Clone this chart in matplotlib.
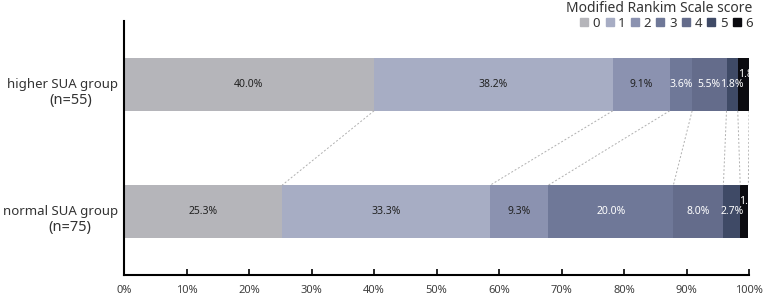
import matplotlib
matplotlib.use('Agg')
import matplotlib.pyplot as plt
import numpy as np
from matplotlib.lines import Line2D

plt.rcParams['font.family'] = ['Noto Sans', 'DejaVu Sans']

# data
groups = ['higher SUA group', 'normal SUA group']
group_n = ['(n=55)', '(n=75)']
scores = ['0', '1', '2', '3', '4', '5', '6']
higher = [40.0, 38.2, 9.1, 3.6, 5.5, 1.8, 1.8]
normal = [25.3, 33.3, 9.3, 20.0, 8.0, 2.7, 1.3]
colors = ['#b5b5ba', '#a7adc4', '#8b92b0', '#6f7898', '#646c8b', '#3f4a66', '#0b0b10']
text_colors = ['#222222', '#222222', '#222222', 'white', 'white', 'white', 'white']

fig = plt.figure(figsize=(7.67, 2.96), dpi=100)
ax = fig.add_axes([124/767, 21/296, 625/767, 254/296])

ypos = [1, 0]
h = 0.415
for y, vals in zip(ypos, [higher, normal]):
    left = 0
    for i, v in enumerate(vals):
        ax.barh(y, v, left=left, height=h, color=colors[i], edgecolor='none')
        if i < 6:
            ax.text(left + v/2, y, '%.1f%%' % v, ha='center', va='center',
                    fontsize=7.5, color=text_colors[i])
        else:
            ax.text(left + v/2 + 0.4, y + 0.08, '%.1f' % v, ha='center', va='center',
                    fontsize=7.5, color='white', clip_on=True)
        left += v

# dashed connectors between cumulative boundaries
cum_h = np.cumsum(higher)
cum_n = np.cumsum(normal)
for a, b in zip(cum_h, cum_n):
    ax.plot([a, b], [1 - h/2, 0 + h/2], ls=(0, (2, 2)), color='#b0b0b0', lw=0.7)

ax.set_xlim(0, 100)
ax.set_ylim(-0.5, 1.5)
ax.set_xticks(np.arange(0, 101, 10))
ax.set_xticklabels(['%d%%' % t for t in range(0, 101, 10)], fontsize=8, color='#404040')
ax.tick_params(axis='x', direction='in', length=4, width=1.2, pad=7)
ax.set_yticks([])
for s in ['top', 'right']:
    ax.spines[s].set_visible(False)
for s in ['left', 'bottom']:
    ax.spines[s].set_linewidth(1.5)

# two-line group labels left of the axis
for y, g, n in zip(ypos, groups, group_n):
    ax.text(-0.01, y, g, transform=ax.get_yaxis_transform(), ha='right', va='center',
            fontsize=9.5, color='#333333')
    ax.text(-0.086, y - 0.125, n, transform=ax.get_yaxis_transform(), ha='center', va='center',
            fontsize=10.5, color='#333333')

handles = [Line2D([], [], marker='s', ls='none', color=c, markersize=6) for c in colors]
leg = fig.legend(handles, scores, loc='upper right', bbox_to_anchor=(0.99, 1.02), ncol=7,
                 frameon=False, title='Modified Rankim Scale score', title_fontsize=10,
                 fontsize=9.5, handlelength=0.7, handletextpad=0.3, columnspacing=0.35,
                 labelspacing=0.1, borderpad=0.0)
leg._legend_box.align = 'right'
leg._legend_box.sep = 1
for t in leg.get_texts():
    t.set_color('#333333')
leg.get_title().set_color('#333333')

fig.savefig('out.png', dpi=100)
